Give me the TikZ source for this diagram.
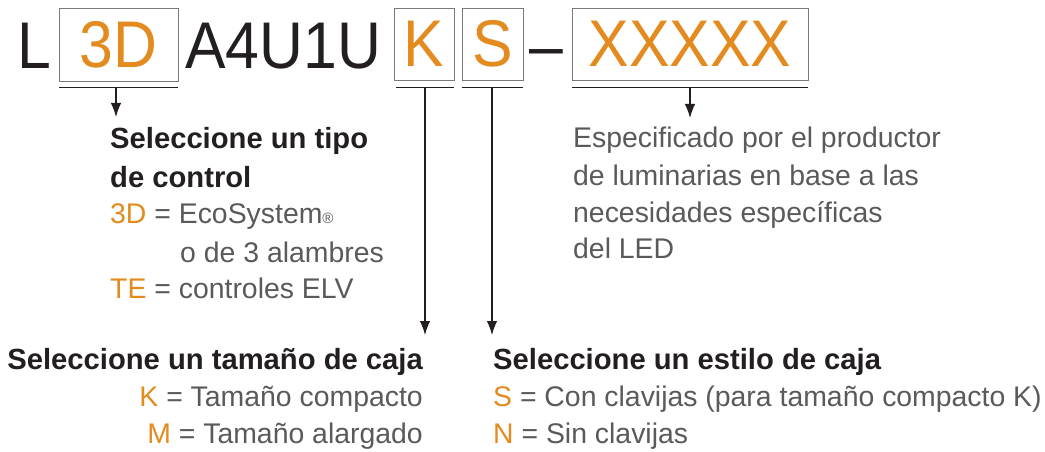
\documentclass[tikz,border=0pt]{standalone}
\usepackage{fontspec}
\setmainfont{Liberation Sans}
\usetikzlibrary{arrows.meta}
\definecolor{orng}{HTML}{E38B1F}
\definecolor{txtgray}{HTML}{5A5A5A}
\definecolor{ink}{HTML}{231F20}
\definecolor{boxgray}{HTML}{7A7A7A}
\newcommand{\bigsq}[1]{\scalebox{0.92}[1]{#1}}
\begin{document}
\begin{tikzpicture}[x=1pt,y=-1pt,
  codebox/.style={draw=boxgray, line width=0.9pt, inner sep=0pt, fill=white, font=\fontsize{66}{66}\selectfont, text=orng},
  bigtxt/.style={inner sep=0pt, anchor=base west, font=\fontsize{66}{66}\selectfont, text=ink},
  head/.style={inner sep=0pt, font=\fontsize{29.2}{29.2}\selectfont\bfseries, text=ink},
  body/.style={inner sep=0pt, font=\fontsize{28.4}{28.4}\selectfont, text=txtgray},
  uline/.style={draw=ink, line width=1.3pt},
  arr/.style={draw=ink, line width=1.2pt, -{Latex[length=14pt,width=10.5pt]}}
]
\useasboundingbox[fill=white] (0,0) rectangle (1045,452);

% top row
\node[bigtxt] (L) at (17,69) {\bigsq{L}};
\node[codebox, minimum width=119pt, minimum height=73pt] (b3d) at (118.5,44.5) {\bigsq{3D}};
\node[bigtxt] (mid) at (185,69) {\bigsq{A4U1U}};
\node[codebox, minimum width=60pt, minimum height=72pt] (bK) at (424,44) {\bigsq{K}};
\node[codebox, minimum width=61pt, minimum height=72pt] (bS) at (492.5,44) {\bigsq{S}};
\node[bigtxt] (dash) at (529,69) {\bigsq{–}};
\node[codebox, minimum width=236pt, minimum height=72pt] (bX) at (690,44) {\bigsq{XXXXX}};

% underlines
\draw[uline] ([yshift=-6pt]b3d.south west) -- ([yshift=-6pt]b3d.south east);
\draw[uline] ([xshift=2pt,yshift=-7pt]bK.south west) -- ([yshift=-7pt]bK.south east);
\draw[uline] ([yshift=-7pt]bS.south west) -- ([yshift=-7pt]bS.south east);
\draw[uline] ([yshift=-7pt]bX.south west) -- ([yshift=-7pt]bX.south east);

% arrow coordinates
\coordinate (s3d) at (116,87);  \coordinate (t3d) at (116,117);
\coordinate (sK) at (425,87);   \coordinate (tK) at (425,335);
\coordinate (sS) at (492,87);   \coordinate (tS) at (492,335);
\coordinate (sX) at (690,87);   \coordinate (tX) at (690,118);
\draw[arr] (s3d) -- (t3d);
\draw[arr] (sK) -- (tK);
\draw[arr] (sS) -- (tS);
\draw[arr] (sX) -- (tX);

% control type
\node[head, anchor=base west] (tipo1) at (110,148) {Seleccione un tipo};
\node[head, anchor=base west] (tipo2) at (110,187) {de control};
\node[body, anchor=base west] (tipo3) at (110,223) {\textcolor{orng}{3D} = EcoSystem{\fontsize{15}{15}\selectfont ®}};
\node[body, anchor=base west] (tipo4) at (180,262) {o de 3 alambres};
\node[body, anchor=base west] (tipo5) at (110,298) {\textcolor{orng}{TE} = controles ELV};

% specified by manufacturer
\node[body, anchor=base west] (esp1) at (573,147) {Especificado por el productor};
\node[body, anchor=base west] (esp2) at (573,185) {de luminarias en base a las};
\node[body, anchor=base west] (esp3) at (573,222) {necesidades específicas};
\node[body, anchor=base west] (esp4) at (573,258) {del LED};

% box size
\node[head, anchor=base east] (tam1) at (423,369) {Seleccione un tamaño de caja};
\node[body, anchor=base east] (tam2) at (423,406) {\textcolor{orng}{K} = Tamaño compacto};
\node[body, anchor=base east] (tam3) at (423,443) {\textcolor{orng}{M} = Tamaño alargado};

% box style
\node[head, anchor=base west] (est1) at (493,369) {Seleccione un estilo de caja};
\node[body, anchor=base west] (est2) at (493,406) {\textcolor{orng}{S} = Con clavijas (para tamaño compacto K)};
\node[body, anchor=base west] (est3) at (493,443) {\textcolor{orng}{N} = Sin clavijas};
\end{tikzpicture}
\end{document}
